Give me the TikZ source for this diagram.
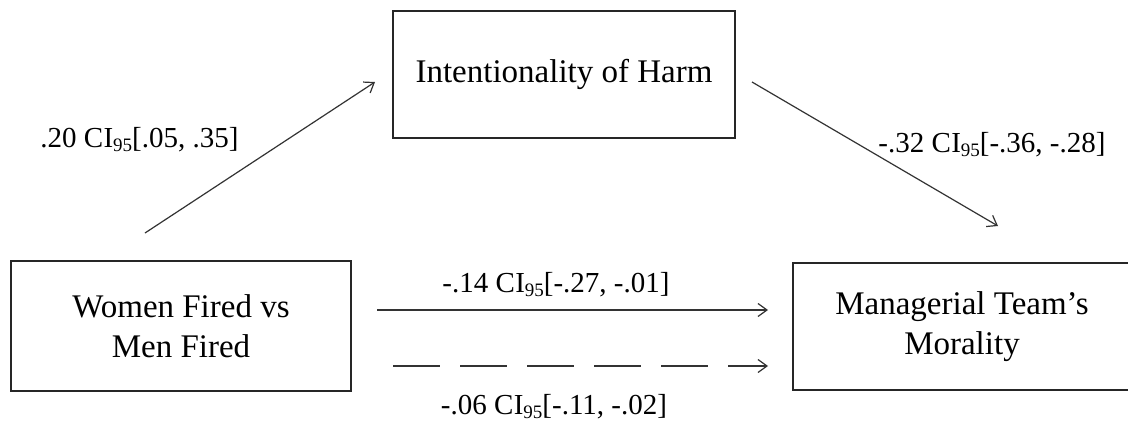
\documentclass[tikz,border=0pt]{standalone}
\usepackage{fontspec}
\setmainfont{Liberation Serif}
\usetikzlibrary{arrows.meta}
\newcommand{\ciSub}{C\kern0.3pt I\raisebox{-0.17em}{\fontsize{19}{19}\selectfont 95}}
\begin{document}
\begin{tikzpicture}[x=1pt,y=-1pt,
  boxnode/.style={draw=black!85, line width=1.4pt, inner sep=0pt, align=center,
    font=\fontsize{33}{40}\selectfont},
  labelnode/.style={inner sep=0pt, anchor=base, font=\fontsize{29}{34}\selectfont},
  conn/.style={draw=black!80, line width=1.2pt,
    -{Straight Barb[length=9pt,width=13pt,line width=1.2pt]}},
  dashconn/.style={conn, dash pattern=on 47pt off 20pt}]
\useasboundingbox (0,0) rectangle (1128,423);
\fill[white] (0,0) rectangle (1128,423);
% boxes
\node[boxnode, minimum width=342pt, minimum height=127pt] (harm) at (564,74.5) {Intentionality of Harm};
\node[boxnode, minimum width=340pt, minimum height=130pt] (women) at (181,326) {Women Fired vs\\Men Fired};
\node[boxnode, minimum width=338pt, minimum height=127pt] (moral) at (962,326.5) {Managerial Team’s\\Morality};
% connector end points
\coordinate (a1) at (145,233);
\coordinate (a2) at (375,82);
\coordinate (b1) at (752,82);
\coordinate (b2) at (998,226);
\coordinate (c1) at (377,310);
\coordinate (c2) at (768,310);
\coordinate (d1) at (393,366);
\coordinate (d2) at (768,366);
\draw[conn] (a1) -- (a2);
\draw[conn] (b1) -- (b2);
\draw[conn] (c1) -- (c2);
\draw[dashconn] (d1) -- (d2);
% labels
\node[labelnode] (la) at (139.5,147) {.20 \ciSub[.05, .35]};
\node[labelnode] (lb) at (992,152) {-.32 \ciSub[-.36, -.28]};
\node[labelnode] (lc) at (556,292) {-.14 \ciSub[-.27, -.01]};
\node[labelnode] (ld) at (554,414) {-.06 \ciSub[-.11, -.02]};
\end{tikzpicture}
\end{document}
